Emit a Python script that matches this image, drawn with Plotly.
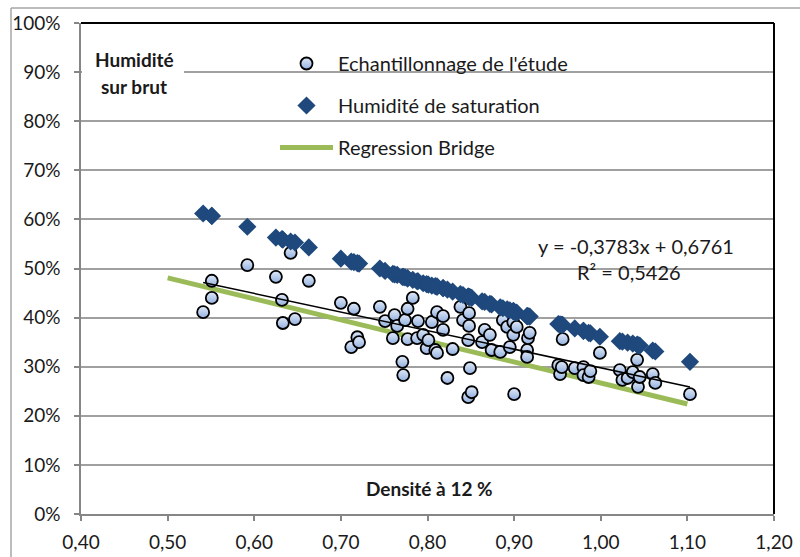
import plotly.graph_objects as go

# ---- data ----
density = [0.541, 0.551, 0.551, 0.592, 0.625, 0.632, 0.633, 0.642, 0.647, 0.663,
           0.700, 0.712, 0.715, 0.719, 0.721, 0.745, 0.751, 0.760, 0.762, 0.765,
           0.771, 0.772, 0.774, 0.777, 0.777, 0.783, 0.788, 0.789, 0.795, 0.799,
           0.801, 0.805, 0.809, 0.811, 0.811, 0.818, 0.818, 0.823, 0.829, 0.838,
           0.841, 0.847, 0.847, 0.848, 0.848, 0.849, 0.851, 0.863, 0.866, 0.872,
           0.874, 0.884, 0.887, 0.892, 0.895, 0.899, 0.899, 0.900, 0.903, 0.915,
           0.915, 0.916, 0.918, 0.951, 0.953, 0.955, 0.956, 0.970, 0.980, 0.980,
           0.986, 0.988, 0.999, 1.022, 1.025, 1.031, 1.037, 1.042, 1.043, 1.045,
           1.060, 1.063, 1.103]

humidity_sample = [0.411, 0.475, 0.440, 0.507, 0.483, 0.436, 0.389, 0.532, 0.397, 0.475,
                   0.430, 0.340, 0.418, 0.360, 0.350, 0.422, 0.393, 0.358, 0.405, 0.383,
                   0.310, 0.283, 0.395, 0.418, 0.356, 0.440, 0.358, 0.393, 0.365, 0.338,
                   0.354, 0.391, 0.334, 0.411, 0.328, 0.403, 0.375, 0.277, 0.336, 0.422,
                   0.395, 0.354, 0.238, 0.409, 0.383, 0.297, 0.248, 0.350, 0.375, 0.365,
                   0.334, 0.330, 0.395, 0.381, 0.340, 0.391, 0.365, 0.244, 0.381, 0.334,
                   0.320, 0.358, 0.369, 0.303, 0.285, 0.299, 0.356, 0.297, 0.299, 0.283,
                   0.279, 0.291, 0.328, 0.293, 0.273, 0.277, 0.289, 0.314, 0.259, 0.279,
                   0.285, 0.267, 0.244]

humidity_saturation = [0.612, 0.607, 0.607, 0.585, 0.563, 0.560, 0.559, 0.555, 0.553, 0.543,
                       0.520, 0.514, 0.513, 0.511, 0.510, 0.500, 0.495, 0.489, 0.488, 0.487,
                       0.483, 0.483, 0.482, 0.480, 0.480, 0.477, 0.474, 0.474, 0.470, 0.468,
                       0.467, 0.465, 0.464, 0.463, 0.463, 0.460, 0.460, 0.457, 0.453, 0.448,
                       0.446, 0.443, 0.443, 0.442, 0.442, 0.442, 0.440, 0.433, 0.432, 0.428,
                       0.427, 0.421, 0.419, 0.417, 0.415, 0.413, 0.413, 0.412, 0.410, 0.403,
                       0.403, 0.403, 0.402, 0.387, 0.386, 0.385, 0.385, 0.378, 0.373, 0.373,
                       0.369, 0.368, 0.361, 0.352, 0.351, 0.349, 0.347, 0.345, 0.344, 0.343,
                       0.333, 0.331, 0.310]

bridge_x = [0.50, 1.10]
bridge_y = [0.481, 0.224]

trend_slope = -0.3783
trend_intercept = 0.6761

x_ticks = [0.4, 0.5, 0.6, 0.7, 0.8, 0.9, 1.0, 1.1, 1.2]
y_ticks = [0, 0.1, 0.2, 0.3, 0.4, 0.5, 0.6, 0.7, 0.8, 0.9, 1.0]

# ---- figure ----
FONT = "Lato"
TXT = "#1a1a1a"
W, H = 800, 557
ML, MR, MT, MB = 81, 26, 23, 43
PW, PH = W - ML - MR, H - MT - MB


def px_x(px):
    return (px - ML) / PW


def px_y(py):
    return (H - MB - py) / PH


fig = go.Figure()

fig.add_trace(go.Scatter(
    x=bridge_x, y=bridge_y, mode="lines", name="Regression Bridge",
    line=dict(color="#9BBB59", width=5), legendgroup="c", legendrank=3))

fig.add_trace(go.Scatter(
    x=density, y=humidity_sample, mode="markers",
    name="Echantillonnage de l'étude", legendgroup="a", legendrank=1,
    marker=dict(symbol="circle", size=12, color="#e0e9f7",
                gradient=dict(type="vertical", color="#92b0df"),
                line=dict(color="#000000", width=1.8))))

tx = [min(density), max(density)]
fig.add_trace(go.Scatter(
    x=tx, y=[trend_slope * v + trend_intercept for v in tx], mode="lines",
    line=dict(color="#000000", width=1.5), showlegend=False, hoverinfo="skip"))

fig.add_trace(go.Scatter(
    x=density, y=humidity_saturation, mode="markers",
    name="Humidité de saturation", legendgroup="b", legendrank=2,
    marker=dict(symbol="diamond", size=14, color="#1F497D",
                line=dict(width=0))))

fig.update_layout(
    width=W, height=H,
    margin=dict(l=ML, r=MR, t=MT, b=MB, autoexpand=False),
    paper_bgcolor="white", plot_bgcolor="white",
    separators=", ",
    font=dict(family=FONT, size=19, color=TXT),
    showlegend=True,
    legend=dict(x=px_x(275), y=px_y(44), xanchor="left", yanchor="top",
                bgcolor="rgba(0,0,0,0)", borderwidth=0,
                font=dict(family=FONT, size=20, color=TXT),
                tracegroupgap=13, itemwidth=53),
)

fig.update_xaxes(range=[0.4, 1.2], tickvals=x_ticks, tickformat=".2f",
                 automargin=False,
                 showgrid=False, zeroline=False, showline=True,
                 linecolor="#868686", linewidth=1.5,
                 ticks="outside", ticklen=5, tickcolor="#868686", tickwidth=1.5,
                 ticklabelstandoff=5,
                 tickfont=dict(family=FONT, size=19, color=TXT))
fig.update_yaxes(range=[0, 1.0], tickvals=y_ticks, tickformat=".0%",
                 automargin=False,
                 showgrid=True, gridcolor="#a0a0a0", gridwidth=1.5,
                 zeroline=False, showline=True,
                 linecolor="#868686", linewidth=1.5,
                 ticks="outside", ticklen=5, tickcolor="#868686", tickwidth=1.5,
                 ticklabelstandoff=10,
                 tickfont=dict(family=FONT, size=19, color=TXT))

shapes = [
    # top and right borders of the plot area
    dict(type="line", xref="paper", yref="paper", x0=0, x1=1, y0=1, y1=1,
         line=dict(color="#000000", width=2)),
    dict(type="line", xref="paper", yref="paper", x0=1, x1=1, y0=0, y1=1,
         line=dict(color="#000000", width=2)),
    # outer chart frame
    dict(type="line", xref="paper", yref="paper", x0=px_x(11), x1=px_x(820),
         y0=px_y(8), y1=px_y(8), line=dict(color="#a6a6a6", width=1.5)),
    dict(type="line", xref="paper", yref="paper", x0=px_x(11), x1=px_x(11),
         y0=px_y(8), y1=px_y(600), line=dict(color="#a6a6a6", width=1.5)),
    # white box behind the axis title
    dict(type="rect", xref="paper", yref="paper", x0=px_x(82), x1=px_x(184),
         y0=px_y(100), y1=px_y(45), fillcolor="white", line=dict(width=0),
         layer="above"),
]
fig.update_layout(shapes=shapes)


def note(text, cx, cy, size):
    return dict(text=text, x=px_x(cx), y=px_y(cy), xref="paper", yref="paper",
                xanchor="center", yanchor="middle", showarrow=False,
                font=dict(family=FONT, size=size, color=TXT))


annotations = [
    note("<b>Humidité</b>", 134, 59, 19),
    note("<b>sur brut</b>", 134, 87, 19),
    note("<b>Densité à 12 %</b>", 429, 488, 19),
    note("y = -0,3783x + 0,6761", 636, 246, 20),
    note("R² = 0,5426", 629, 272, 20),
]
fig.update_layout(annotations=annotations)

fig.write_html("out.html")
